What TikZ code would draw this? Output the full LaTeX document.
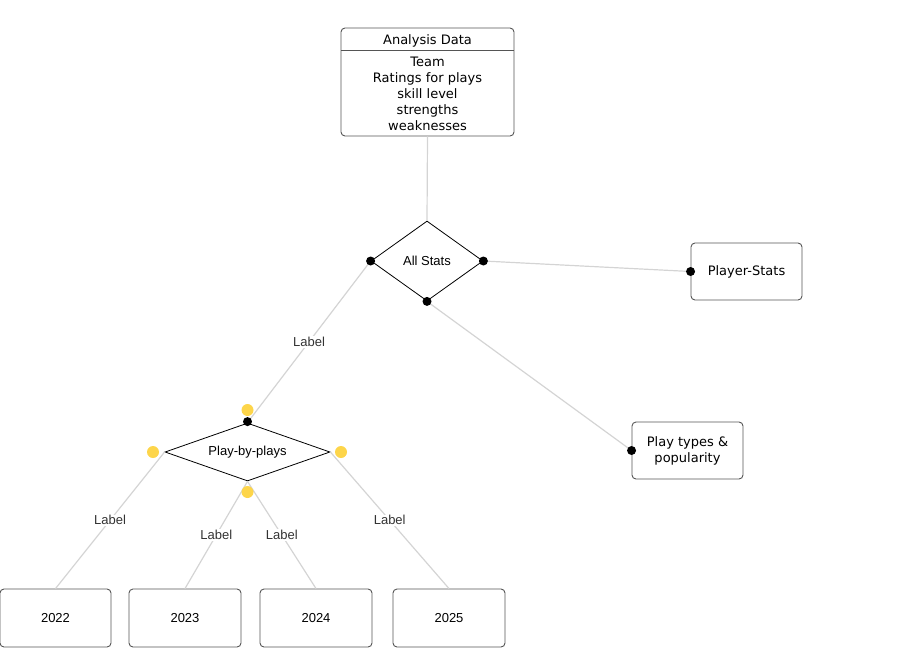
\documentclass[tikz,border=0pt]{standalone}
\usepackage{fontspec}
\setmainfont{DejaVu Sans}
\newfontfamily\arialf{Liberation Sans}
\usetikzlibrary{shapes.geometric}
\definecolor{edgegray}{HTML}{D4D4D4}
\definecolor{boxgray}{HTML}{555555}
\definecolor{dotyellow}{HTML}{FDD54A}
\definecolor{labelgray}{HTML}{333333}
\tikzset{
  box/.style={draw=boxgray, line width=0.9pt, rounded corners=4pt, fill=white, inner sep=0pt},
  dia/.style={draw=black, line width=0.8pt, diamond, fill=white, inner sep=0pt},
  conn/.style={draw=edgegray, line width=1.2pt},
  lbl/.style={fill=white, text=labelgray, inner sep=1pt, font=\arialf\fontsize{13}{15}\selectfont},
  blackdot/.style={circle, fill=black, inner sep=0pt, minimum size=9pt},
  yellowdot/.style={circle, fill=dotyellow, inner sep=0pt, minimum size=12pt},
  verd/.style={font=\fontsize{13}{16}\selectfont},
  arl/.style={font=\arialf\fontsize{13}{15}\selectfont}
}
\begin{document}
\begin{tikzpicture}[x=1pt,y=-1pt]
\useasboundingbox (0,0) rectangle (907,670);
% nodes
\node[box, minimum width=173pt, minimum height=108pt] (ad) at (427.5,82) {};
\node[verd, inner sep=0pt] (adh) at (427.5,41) {Analysis Data};
\draw[boxgray, line width=0.9pt] (341,50) coordinate (hl) -- (514,50) coordinate (hr);
\node[verd, align=center, inner sep=0pt] (adb) at (427.5,94) {Team\\Ratings for plays\\skill level\\strengths\\weaknesses};

\node[dia, minimum width=112pt, minimum height=80pt, aspect=1.4, arl] (all) at (427,261) {All Stats};
\node[box, minimum width=111pt, minimum height=57pt, verd] (ps) at (746.5,271.5) {Player-Stats};
\node[box, minimum width=111pt, minimum height=57pt, verd, align=center] (pt) at (687.5,450.5) {Play types \&\\popularity};
\node[dia, minimum width=165pt, minimum height=58pt, aspect=2.8, font=\arialf\fontsize{13}{15}\selectfont] (pbp) at (247.5,452) {Play-by-plays};

\node[box, minimum width=111pt, minimum height=58pt, arl] (y22) at (55.5,618) {2022};
\node[box, minimum width=112pt, minimum height=58pt, arl] (y23) at (185,618) {2023};
\node[box, minimum width=112pt, minimum height=58pt, arl] (y24) at (316,618) {2024};
\node[box, minimum width=112pt, minimum height=58pt, arl] (y25) at (449,618) {2025};

% connectors
\draw[conn] (ad.south) -- (all.north);
\draw[conn] (all.east) -- (ps.west);
\draw[conn] (all.south) -- (pt.west);
\draw[conn] (all.west) -- node[lbl] {Label} (pbp.north);
\draw[conn] (pbp.west) -- node[lbl] {Label} (y22.north);
\draw[conn] (pbp.south) -- node[lbl] {Label} (y23.north);
\draw[conn] (pbp.south) -- node[lbl] {Label} (y24.north);
\draw[conn] (pbp.east) -- node[lbl] {Label} (y25.north);

% dots
\node[blackdot] (d1) at (all.west) {};
\node[blackdot] (d2) at (all.east) {};
\node[blackdot] (d3) at (all.south) {};
\node[blackdot] (d4) at (ps.west) {};
\node[blackdot] (d5) at (pt.west) {};
\node[blackdot] (d6) at ([yshift=1pt]pbp.north) {};
\node[yellowdot] (yd1) at (247.5,410) {};
\node[yellowdot] (yd2) at (153,452) {};
\node[yellowdot] (yd3) at (341,452) {};
\node[yellowdot] (yd4) at (247.5,492) {};
\end{tikzpicture}
\end{document}
